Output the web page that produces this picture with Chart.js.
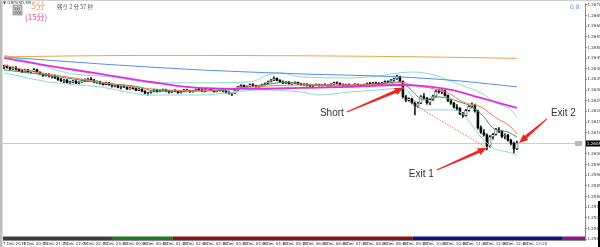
<!DOCTYPE html>
<html lang="ja">
<head>
  <meta charset="utf-8">
  <title>GBPUSD,M5</title>
  <script src="https://cdn.jsdelivr.net/npm/chart.js@4/dist/chart.umd.min.js"></script>
  <style>
    html, body { margin: 0; padding: 0; background: #fff; }
    .wrapper { width: 600px; height: 247px; position: relative; }
  </style>
</head>
<body>
  <div class="wrapper"><canvas id="chart-0"></canvas></div>

  <script>
    // 5 minute candles, [open, high, low, close]
    let candles = [
      [1.26405,1.26416,1.26400,1.26412],[1.26412,1.26418,1.26403,1.26406],[1.26406,1.26410,1.26396,1.26399],[1.26399,1.26409,1.26395,1.26406],
      [1.26406,1.26410,1.26394,1.26397],[1.26397,1.26402,1.26388,1.26390],[1.26390,1.26396,1.26382,1.26386],[1.26386,1.26399,1.26384,1.26395],
      [1.26395,1.26398,1.26383,1.26385],[1.26385,1.26390,1.26379,1.26388],[1.26388,1.26401,1.26386,1.26396],[1.26396,1.26399,1.26380,1.26383],
      [1.26383,1.26387,1.26372,1.26376],[1.26376,1.26380,1.26364,1.26368],[1.26368,1.26379,1.26365,1.26375],[1.26375,1.26378,1.26362,1.26365],
      [1.26365,1.26370,1.26356,1.26369],[1.26369,1.26372,1.26354,1.26357],[1.26357,1.26361,1.26346,1.26349],[1.26349,1.26355,1.26339,1.26343],
      [1.26343,1.26350,1.26335,1.26347],[1.26347,1.26350,1.26332,1.26335],[1.26335,1.26342,1.26328,1.26339],[1.26339,1.26346,1.26334,1.26343],
      [1.26343,1.26345,1.26330,1.26333],[1.26333,1.26340,1.26329,1.26338],[1.26338,1.26349,1.26336,1.26346],[1.26346,1.26353,1.26340,1.26342],
      [1.26342,1.26356,1.26340,1.26352],[1.26352,1.26360,1.26346,1.26348],[1.26348,1.26350,1.26334,1.26337],[1.26337,1.26343,1.26331,1.26340],
      [1.26340,1.26342,1.26328,1.26331],[1.26331,1.26336,1.26323,1.26326],[1.26326,1.26338,1.26324,1.26334],[1.26334,1.26337,1.26322,1.26325],
      [1.26325,1.26329,1.26314,1.26318],[1.26318,1.26326,1.26315,1.26323],[1.26323,1.26325,1.26310,1.26313],[1.26313,1.26319,1.26306,1.26316],
      [1.26316,1.26324,1.26312,1.26314],[1.26314,1.26317,1.26302,1.26305],[1.26305,1.26314,1.26303,1.26311],[1.26311,1.26315,1.26304,1.26307],
      [1.26307,1.26310,1.26296,1.26299],[1.26299,1.26308,1.26297,1.26305],[1.26305,1.26307,1.26291,1.26294],[1.26294,1.26298,1.26282,1.26285],
      [1.26285,1.26290,1.26276,1.26288],[1.26288,1.26299,1.26285,1.26296],[1.26296,1.26303,1.26292,1.26300],[1.26300,1.26304,1.26290,1.26293],
      [1.26293,1.26301,1.26291,1.26298],[1.26298,1.26306,1.26295,1.26303],[1.26303,1.26305,1.26292,1.26295],[1.26295,1.26298,1.26286,1.26290],
      [1.26290,1.26299,1.26288,1.26297],[1.26297,1.26302,1.26293,1.26294],[1.26294,1.26296,1.26284,1.26288],[1.26288,1.26296,1.26286,1.26293],
      [1.26293,1.26304,1.26291,1.26301],[1.26301,1.26305,1.26295,1.26297],[1.26297,1.26300,1.26289,1.26292],[1.26292,1.26299,1.26290,1.26298],
      [1.26298,1.26306,1.26296,1.26304],[1.26304,1.26308,1.26298,1.26300],[1.26300,1.26303,1.26291,1.26294],[1.26294,1.26302,1.26292,1.26300],
      [1.26300,1.26309,1.26298,1.26306],[1.26306,1.26308,1.26297,1.26299],[1.26299,1.26301,1.26290,1.26293],[1.26293,1.26300,1.26291,1.26298],
      [1.26298,1.26305,1.26295,1.26302],[1.26302,1.26304,1.26292,1.26295],[1.26295,1.26298,1.26286,1.26289],[1.26289,1.26293,1.26281,1.26284],
      [1.26284,1.26288,1.26274,1.26286],[1.26286,1.26303,1.26284,1.26300],[1.26300,1.26318,1.26298,1.26315],[1.26315,1.26326,1.26312,1.26322],
      [1.26322,1.26325,1.26313,1.26316],[1.26316,1.26320,1.26310,1.26318],[1.26318,1.26329,1.26316,1.26326],[1.26326,1.26330,1.26319,1.26322],
      [1.26322,1.26324,1.26312,1.26315],[1.26315,1.26321,1.26313,1.26319],[1.26319,1.26328,1.26317,1.26325],[1.26325,1.26334,1.26323,1.26331],
      [1.26331,1.26342,1.26329,1.26339],[1.26339,1.26350,1.26337,1.26347],[1.26347,1.26362,1.26344,1.26355],[1.26355,1.26358,1.26343,1.26346],
      [1.26346,1.26349,1.26335,1.26338],[1.26338,1.26343,1.26330,1.26333],[1.26333,1.26340,1.26331,1.26338],[1.26338,1.26341,1.26328,1.26330],
      [1.26330,1.26335,1.26324,1.26333],[1.26333,1.26339,1.26330,1.26336],[1.26336,1.26338,1.26326,1.26329],[1.26329,1.26333,1.26322,1.26325],
      [1.26325,1.26330,1.26320,1.26328],[1.26328,1.26331,1.26319,1.26322],[1.26322,1.26326,1.26314,1.26318],[1.26318,1.26325,1.26316,1.26323],
      [1.26323,1.26329,1.26321,1.26326],[1.26326,1.26328,1.26318,1.26320],[1.26320,1.26327,1.26318,1.26325],[1.26325,1.26330,1.26322,1.26324],
      [1.26324,1.26326,1.26317,1.26321],[1.26321,1.26330,1.26319,1.26328],[1.26328,1.26338,1.26326,1.26335],[1.26335,1.26339,1.26329,1.26332],
      [1.26332,1.26334,1.26322,1.26325],[1.26325,1.26329,1.26319,1.26322],[1.26322,1.26328,1.26320,1.26326],[1.26326,1.26329,1.26318,1.26320],
      [1.26320,1.26324,1.26315,1.26323],[1.26323,1.26330,1.26321,1.26327],[1.26327,1.26329,1.26320,1.26323],[1.26323,1.26326,1.26317,1.26320],
      [1.26320,1.26328,1.26318,1.26326],[1.26326,1.26334,1.26324,1.26331],[1.26331,1.26336,1.26326,1.26329],[1.26329,1.26337,1.26327,1.26335],
      [1.26335,1.26338,1.26329,1.26332],[1.26332,1.26335,1.26325,1.26328],[1.26328,1.26336,1.26326,1.26334],[1.26334,1.26343,1.26332,1.26340],
      [1.26340,1.26344,1.26335,1.26337],[1.26337,1.26350,1.26335,1.26347],[1.26347,1.26356,1.26342,1.26353],[1.26353,1.26371,1.26350,1.26364],
      [1.26364,1.26366,1.26336,1.26340],[1.26340,1.26343,1.26262,1.26268],[1.26268,1.26275,1.26246,1.26252],[1.26252,1.26264,1.26248,1.26260],
      [1.26260,1.26263,1.26235,1.26240],[1.26240,1.26246,1.26183,1.26226],[1.26226,1.26244,1.26219,1.26239],[1.26239,1.26274,1.26236,1.26270],
      [1.26270,1.26284,1.26259,1.26263],[1.26263,1.26266,1.26234,1.26240],[1.26240,1.26259,1.26231,1.26255],[1.26255,1.26276,1.26251,1.26272],
      [1.26272,1.26299,1.26270,1.26294],[1.26294,1.26304,1.26286,1.26291],[1.26291,1.26302,1.26283,1.26298],[1.26298,1.26300,1.26271,1.26275],
      [1.26275,1.26278,1.26246,1.26250],[1.26250,1.26256,1.26233,1.26238],[1.26238,1.26243,1.26215,1.26220],[1.26220,1.26232,1.26206,1.26214],
      [1.26214,1.26218,1.26184,1.26189],[1.26189,1.26195,1.26172,1.26180],[1.26180,1.26210,1.26178,1.26205],[1.26205,1.26230,1.26201,1.26224],
      [1.26224,1.26240,1.26216,1.26230],[1.26230,1.26234,1.26196,1.26202],[1.26202,1.26206,1.26117,1.26124],[1.26124,1.26132,1.26096,1.26101],
      [1.26101,1.26115,1.26084,1.26090],[1.26090,1.26095,1.26019,1.26038],[1.26038,1.26086,1.26032,1.26080],[1.26080,1.26097,1.26069,1.26092],
      [1.26092,1.26120,1.26088,1.26114],[1.26114,1.26124,1.26100,1.26106],[1.26106,1.26110,1.26076,1.26082],[1.26082,1.26095,1.26071,1.26088],
      [1.26088,1.26092,1.26060,1.26064],[1.26064,1.26070,1.26042,1.26050],[1.26050,1.26056,1.26005,1.26024],[1.26024,1.26060,1.26020,1.26052]
    ];

    // indicator lines, [candle index, price]
    let maOrange = [[0,1.26456],[20,1.26460],[50,1.26463],[100,1.26461],[140,1.26456],[171,1.26449]];
    let maBlue = [[0,1.26456],[32,1.26423],[65,1.26395],[99,1.26376],[132,1.26362],[152,1.26343],[171,1.26315]];
    let maMagenta = [[0,1.26451],[15,1.26414],[32,1.26376],[49,1.26338],[65,1.26310],[82,1.26306],[99,1.26310],
      [115,1.26315],[132,1.26324],[139,1.26320],[149,1.26301],[159,1.26263],[171,1.26216]];
    let maSalmon = [[0,1.26418],[10,1.26385],[21,1.26362],[32,1.26338],[43,1.26315],[54,1.26301],[65,1.26296],[75,1.26306],
      [89,1.26320],[99,1.26324],[115,1.26324],[129,1.26329],[132,1.26338],[136,1.26324],[142,1.26310],[148,1.26287],
      [153,1.26244],[159,1.26221],[164,1.26170],[169,1.26127],[171,1.26094]];
    let maGreen = [[0,1.26395],[16,1.26367],[32,1.26334],[45,1.26315],[50,1.26296],[65,1.26296],[75,1.26301],[79,1.26310],
      [89,1.26329],[94,1.26338],[99,1.26329],[109,1.26320],[119,1.26324],[125,1.26329],[132,1.26338],[135,1.26310],
      [140,1.26254],[145,1.26268],[152,1.26244],[156,1.26221],[160,1.26174],[163,1.26122],[168,1.26103],[171,1.26080]];
    let bandUpper = [[0,1.26465],[9,1.26432],[21,1.26381],[26,1.26371],[32,1.26367],[42,1.26348],[49,1.26334],[65,1.26334],
      [82,1.26338],[88,1.26371],[92,1.26381],[99,1.26362],[115,1.26357],[125,1.26367],[132,1.26381],[136,1.26385],
      [142,1.26376],[148,1.26348],[153,1.26320],[159,1.26287],[164,1.26240],[169,1.26207],[171,1.26174]];
    let bandLower = [[0,1.26381],[15,1.26338],[32,1.26315],[49,1.26277],[65,1.26277],[75,1.26287],[85,1.26301],[99,1.26291],
      [105,1.26277],[115,1.26291],[125,1.26301],[133,1.26310],[140,1.26207],[148,1.26207],[152,1.26197],[159,1.26080],
      [163,1.26028],[168,1.26009],[171,1.25995]];
    let tradeLine = [[134,1.26254],[161,1.26028]];

    let yTicks = [1.2670,1.2665,1.2660,1.2655,1.2650,1.2645,1.2640,1.2635,1.2630,1.2625,1.2620,1.2615,
      1.2610,1.2605,1.2600,1.2595,1.2590,1.2585,1.2580,1.2575,1.2570,1.2565,1.2560];

    let timeLabels = ['7 Dec 2016','7 Dec 20:40','7 Dec 21:20','7 Dec 22:00','7 Dec 22:40','7 Dec 23:20',
      '8 Dec 00:00','8 Dec 00:40','8 Dec 01:20','8 Dec 02:00','8 Dec 02:40','8 Dec 03:20','8 Dec 04:00',
      '8 Dec 04:40','8 Dec 05:20','8 Dec 06:00','8 Dec 06:40','8 Dec 07:20','8 Dec 08:00','8 Dec 08:40',
      '8 Dec 09:20','8 Dec 10:00','8 Dec 10:40','8 Dec 11:20','8 Dec 12:00','8 Dec 12:40','8 Dec 13:20'];

    // market session strip along the bottom, in candle index units
    let sessions = [[-0.33, 36.3, '#3c3c3c'], [36.3, 56.3, '#1f7a1f'], [56.3, 136.3, '#8a1212'],
      [136.3, 186.3, '#12127e'], [186.3, 193.7, '#8a168a']];

    let arrows = [
      {text: 'Short', from: [114.3, 1.26197], to: [133.3, 1.26310], align: 'right', dx: -3, dy: 1},
      {text: 'Exit 1', from: [144.3, 1.25925], to: [161, 1.26028], align: 'right', dx: -3, dy: 4},
      {text: 'Exit 2', from: [181, 1.26165], to: [171.7, 1.26052], align: 'left', dx: 4, dy: -6}
    ];

    let bid = candles[candles.length - 1][3];

    function pts(arr) {
      return arr.map(function(p) { return {x: p[0], y: p[1]}; });
    }

    function line(arr, color, width) {
      return {
        type: 'line', data: pts(arr), borderColor: color, borderWidth: width,
        pointRadius: 0, tension: 0.35, cubicInterpolationMode: 'monotone', order: 0
      };
    }

    let data = {
      datasets: [
        line(maOrange, '#f2a444', 1),
        line(maBlue, '#4f8fe6', 1),
        line(maMagenta, '#e22ee2', 1.8),
        line(maSalmon, '#f27a5c', 1),
        line(maGreen, '#3a9a5c', 1),
        line(bandUpper, '#92d6d6', 1),
        line(bandLower, '#92d6d6', 1),
        {
          type: 'line', data: pts(tradeLine), borderColor: '#f06a55', borderWidth: 1,
          borderDash: [1.5, 1.5], pointRadius: 0, order: 0
        },
        {
          type: 'bar', order: 1, grouped: false, barThickness: 2.4, borderWidth: 0.7,
          borderSkipped: false, borderColor: '#000',
          data: candles.map(function(c, i) { return {x: i, y: [c[0], c[3]]}; }),
          backgroundColor: function(ctx) {
            let r = ctx.raw;
            return r && r.y[1] >= r.y[0] ? '#ffffff' : '#000000';
          }
        },
        {
          type: 'bar', order: 2, grouped: false, barThickness: 0.8, backgroundColor: '#000',
          data: candles.map(function(c, i) { return {x: i, y: [c[2], c[1]]}; })
        }
      ]
    };

    function arrow(ctx, x0, y0, x1, y1) {
      let a = Math.atan2(y1 - y0, x1 - x0);
      let len = Math.hypot(x1 - x0, y1 - y0);
      let head = 9;
      ctx.save();
      ctx.translate(x0, y0);
      ctx.rotate(a);
      ctx.fillStyle = '#ea2a22';
      ctx.beginPath();
      ctx.moveTo(0, -0.5);
      ctx.lineTo(len - head, -1.6);
      ctx.lineTo(len - head, -3.8);
      ctx.lineTo(len, 0);
      ctx.lineTo(len - head, 3.8);
      ctx.lineTo(len - head, 1.6);
      ctx.lineTo(0, 0.5);
      ctx.closePath();
      ctx.fill();
      ctx.restore();
    }

    let overlay = {
      id: 'overlay',
      beforeDatasetsDraw: function(chart) {
        let ctx = chart.ctx, a = chart.chartArea, y = chart.scales.y;
        let yb = Math.round(y.getPixelForValue(bid)) + 0.5;
        ctx.save();
        ctx.strokeStyle = '#cccccc';
        ctx.lineWidth = 1;
        ctx.beginPath();
        ctx.moveTo(a.left, yb);
        ctx.lineTo(a.right - 10, yb);
        ctx.stroke();
        ctx.restore();
      },
      afterDatasetsDraw: function(chart) {
        let ctx = chart.ctx, a = chart.chartArea, x = chart.scales.x, y = chart.scales.y;
        ctx.save();
        // sessions
        sessions.forEach(function(s) {
          let x0 = Math.max(a.left, x.getPixelForValue(s[0]));
          let x1 = Math.min(a.right, x.getPixelForValue(s[1]));
          ctx.fillStyle = s[2];
          ctx.fillRect(x0, a.bottom - 3.5, x1 - x0, 3.5);
        });
        // arrows and notes
        ctx.font = '10px "Liberation Sans", Arial, sans-serif';
        ctx.textBaseline = 'middle';
        arrows.forEach(function(n) {
          let x0 = x.getPixelForValue(n.from[0]), y0 = y.getPixelForValue(n.from[1]);
          let x1 = x.getPixelForValue(n.to[0]), y1 = y.getPixelForValue(n.to[1]);
          arrow(ctx, x0, y0, x1, y1);
          ctx.fillStyle = '#333';
          ctx.textAlign = n.align;
          ctx.fillText(n.text, x0 + n.dx, y0 + n.dy);
        });
        ctx.restore();
      },
      afterDraw: function(chart) {
        let ctx = chart.ctx, a = chart.chartArea, y = chart.scales.y;
        let yb = Math.round(y.getPixelForValue(bid)) + 0.5;
        ctx.save();
        // frame
        ctx.fillStyle = '#bdbdbd';
        ctx.fillRect(0, 0, 2.5, chart.height);
        ctx.fillStyle = '#d0d0d0';
        ctx.fillRect(0, 0, chart.width, 1);
        ctx.fillStyle = '#000';
        ctx.fillRect(598, 201, 2, chart.height - 201);
        // current price boxes
        ctx.fillStyle = '#b8b8b8';
        ctx.fillRect(a.right - 10, yb - 2.5, 7, 5);
        ctx.fillStyle = '#000';
        ctx.fillRect(a.right + 1, yb - 3, 14, 6);
        ctx.font = '4px "DejaVu Sans", sans-serif';
        ctx.textBaseline = 'middle';
        ctx.textAlign = 'left';
        ctx.fillStyle = '#fff';
        ctx.fillText(bid.toFixed(4), a.right + 2, yb);
        // header
        ctx.fillStyle = '#444';
        ctx.textBaseline = 'top';
        ctx.fillText('▼ GBPUSD,M5', 3, 0.5);
        ctx.fillStyle = '#c4c4c4';
        ctx.fillRect(13, 5, 9, 10);
        ctx.strokeStyle = '#777';
        ctx.lineWidth = 0.6;
        ctx.strokeRect(13, 5, 9, 10);
        ctx.fillStyle = '#333';
        ctx.font = '3.5px "Noto Sans CJK JP", sans-serif';
        ctx.fillText('5分', 14.5, 6.5);
        ctx.fillText('15分', 14, 10.5);
        ctx.font = '9px "Noto Sans CJK JP", sans-serif';
        ctx.fillStyle = '#f4956c';
        ctx.fillText('5分', 31, 1.5);
        ctx.font = '8px "Noto Sans CJK JP", sans-serif';
        ctx.fillStyle = '#f23c9c';
        ctx.fillText('(15分)', 25, 13);
        ctx.font = '5.5px "Noto Sans CJK JP", sans-serif';
        ctx.fillStyle = '#555';
        ctx.fillText('残り 2 分 57 秒', 57, 4);
        ctx.font = '6px "DejaVu Sans", sans-serif';
        ctx.fillStyle = '#5a96d8';
        ctx.fillText('0.8', 570, 4);
        ctx.restore();
      }
    };

    let chart = new Chart('chart-0', {
      type: 'bar',
      data: data,
      plugins: [overlay],
      options: {
        responsive: true,
        maintainAspectRatio: false,
        animation: false,
        events: [],
        layout: {padding: {left: 3, top: 3, right: 0, bottom: 0}},
        plugins: {legend: {display: false}, tooltip: {enabled: false}},
        scales: {
          x: {
            type: 'linear', min: -0.33, max: 193.7, offset: false,
            grid: {drawOnChartArea: false, tickLength: 1.5, color: '#888'},
            border: {color: '#888'},
            afterBuildTicks: function(s) {
              s.ticks = timeLabels.map(function(t, k) { return {value: k * 20 / 3 - 0.33}; });
            },
            afterFit: function(s) { s.height = 7; },
            ticks: {
              autoSkip: false, maxRotation: 0, minRotation: 0, align: 'start', padding: 0.5,
              font: {size: 4, family: 'DejaVu Sans'}, color: '#333',
              callback: function(v, k) { return timeLabels[k]; }
            }
          },
          y: {
            position: 'right', min: 1.25596, max: 1.26709,
            grid: {drawOnChartArea: false, tickLength: 2, color: '#888'},
            border: {color: '#888'},
            afterBuildTicks: function(s) {
              s.ticks = yTicks.map(function(v) { return {value: v}; });
            },
            afterFit: function(s) { s.width = 15; },
            ticks: {
              autoSkip: false, padding: 0.5,
              font: {size: 4, family: 'DejaVu Sans'}, color: '#333',
              callback: function(v) { return v.toFixed(4); }
            }
          }
        }
      }
    });
  </script>
</body>
</html>
